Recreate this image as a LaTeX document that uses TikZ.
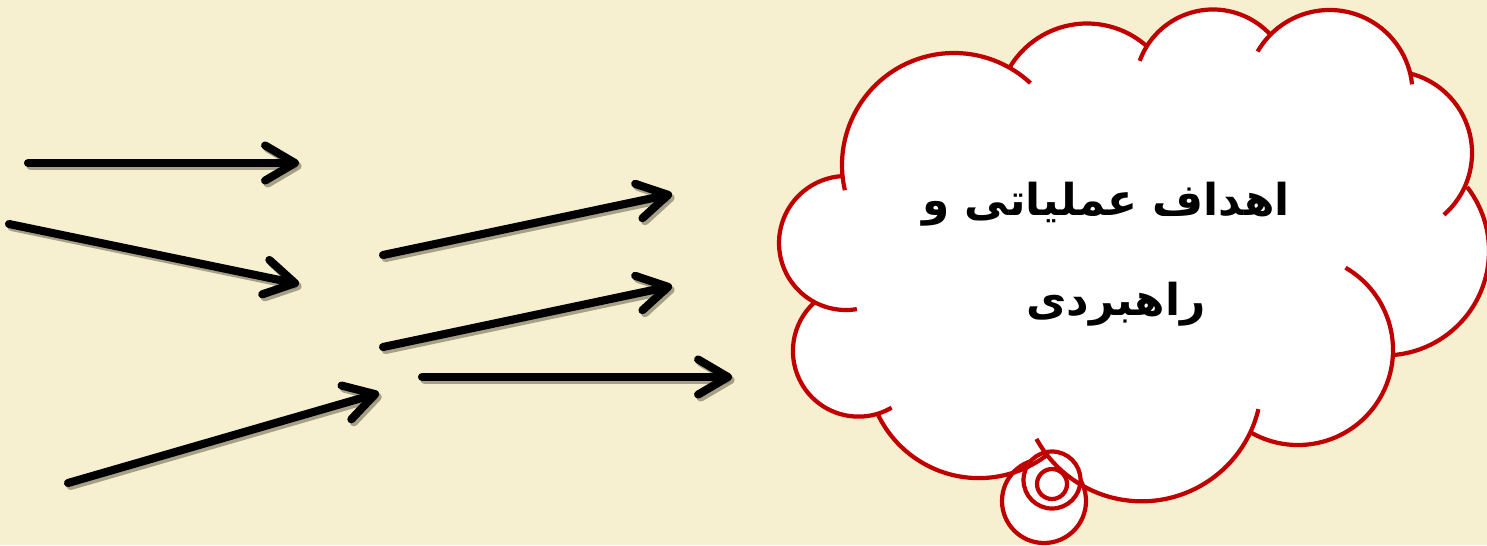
\documentclass[tikz,border=0pt]{standalone}
\usepackage{fontspec}
\usetikzlibrary{arrows.meta}
\newfontfamily\arabicfont[Script=Arabic]{DejaVu Sans}
\TeXXeTstate=1
\definecolor{bg}{RGB}{246,239,208}
\definecolor{cloudred}{RGB}{192,0,0}
\definecolor{shadowc}{RGB}{140,134,108}
\tikzset{
  arrowline/.style={line width=4.6pt, line cap=round, line join=round,
    -{Straight Barb[length=17pt,width=20pt,round]},
    preaction={draw=shadowc, draw opacity=0.75, line width=4.6pt, line cap=round, line join=round,
      -{Straight Barb[length=17pt,width=20pt,round]},
      transform canvas={shift={(2.5,-3)}}}},
  lobe/.style={draw=cloudred, line width=2.4pt},
  bubble/.style={fill=white, draw=cloudred, line width=2.4pt},
  ptext/.style={font=\arabicfont\bfseries\fontsize{25}{30}\selectfont, text=black, inner sep=0pt}
}
\begin{document}
\begin{tikzpicture}[x=0.02cm,y=0.02cm,yscale=-1]
\fill[bg] (0,0) rectangle (1487,545);
\useasboundingbox (0,0) rectangle (1487,545);

% arrows
\coordinate (a1s) at (28,163);  \coordinate (a1e) at (299,163);
\coordinate (a2s) at (9,224);   \coordinate (a2e) at (299,284);
\coordinate (a3s) at (383,255); \coordinate (a3e) at (672,194);
\coordinate (a4s) at (383,347); \coordinate (a4e) at (672,286);
\coordinate (a5s) at (422,377); \coordinate (a5e) at (732,377);
\coordinate (a6s) at (68,483);  \coordinate (a6e) at (379,393);
\draw[arrowline] (a1s) -- (a1e);
\draw[arrowline] (a2s) -- (a2e);
\draw[arrowline] (a3s) -- (a3e);
\draw[arrowline] (a4s) -- (a4e);
\draw[arrowline] (a5s) -- (a5e);
\draw[arrowline] (a6s) -- (a6e);

% cloud fill
\fill[white]
  ([shift={(117.7:67)}]846,243) arc[start angle=117.7,end angle=266.6,radius=67]
  -- ([shift={(174.9:112)}]954,165) arc[start angle=174.9,end angle=300,radius=112]
  -- ([shift={(210.6:90)}]1087,113.5) arc[start angle=210.6,end angle=312.1,radius=90]
  -- ([shift={(211.5:78)}]1213,87.5) arc[start angle=211.5,end angle=317.4,radius=78]
  -- ([shift={(224.3:83)}]1329.5,93) arc[start angle=224.3,end angle=345.4,radius=83]
  -- ([shift={(283.9:82)}]1390,153) arc[start angle=283.9,end angle=383.8,radius=82]
  -- ([shift={(322.2:104.4)}]1384.6,251) arc[start angle=322.2,end angle=444.3,radius=104.4]
  -- ([shift={(1.8:95)}]1298,350) arc[start angle=1.8,end angle=120,radius=95]
  -- ([shift={(25.5:120)}]1141.7,381.3) arc[start angle=25.5,end angle=142.1,radius=120]
  -- ([shift={(52.5:112)}]978.9,366.1) arc[start angle=52.5,end angle=155.3,radius=112]
  -- ([shift={(73.4:65.6)}]858.5,351) arc[start angle=73.4,end angle=228.4,radius=65.6]
  -- cycle;

% thought bubbles
\draw[bubble] (1044,501) circle[radius=42];
\draw[bubble] (1052,480) circle[radius=28.5];
\draw[bubble] (1052,484) circle[radius=15];

% cloud outline
\draw[lobe] ([shift={(80.7:67)}]846,243) arc[start angle=80.7,end angle=266.6,radius=67];
\draw[lobe] ([shift={(167:112)}]954,165) arc[start angle=167,end angle=313,radius=112];
\draw[lobe] ([shift={(210.6:90)}]1087,113.5) arc[start angle=210.6,end angle=312.1,radius=90];
\draw[lobe] ([shift={(200:78)}]1213,87.5) arc[start angle=200,end angle=317.4,radius=78];
\draw[lobe] ([shift={(210:83)}]1329.5,93) arc[start angle=210,end angle=354,radius=83];
\draw[lobe] ([shift={(283.9:82)}]1390,153) arc[start angle=283.9,end angle=408.9,radius=82];
\draw[lobe] ([shift={(322.2:104.4)}]1384.6,251) arc[start angle=322.2,end angle=444.3,radius=104.4];
\draw[lobe] ([shift={(-60:95)}]1298,350) arc[start angle=-60,end angle=120,radius=95];
\draw[lobe] ([shift={(13.4:120)}]1141.7,381.3) arc[start angle=13.4,end angle=151.3,radius=120];
\draw[lobe] ([shift={(52.5:112)}]978.9,366.1) arc[start angle=52.5,end angle=155.3,radius=112];
\draw[lobe] ([shift={(59.7:65.6)}]858.5,351) arc[start angle=59.7,end angle=228.4,radius=65.6];

% text
\node[ptext, anchor=base] (t1) at (1106,215) {\beginR اهداف عملیاتی و\endR};
\node[ptext, anchor=base] (t2) at (1116,315) {\beginR راهبردی\endR};
\end{tikzpicture}
\end{document}
